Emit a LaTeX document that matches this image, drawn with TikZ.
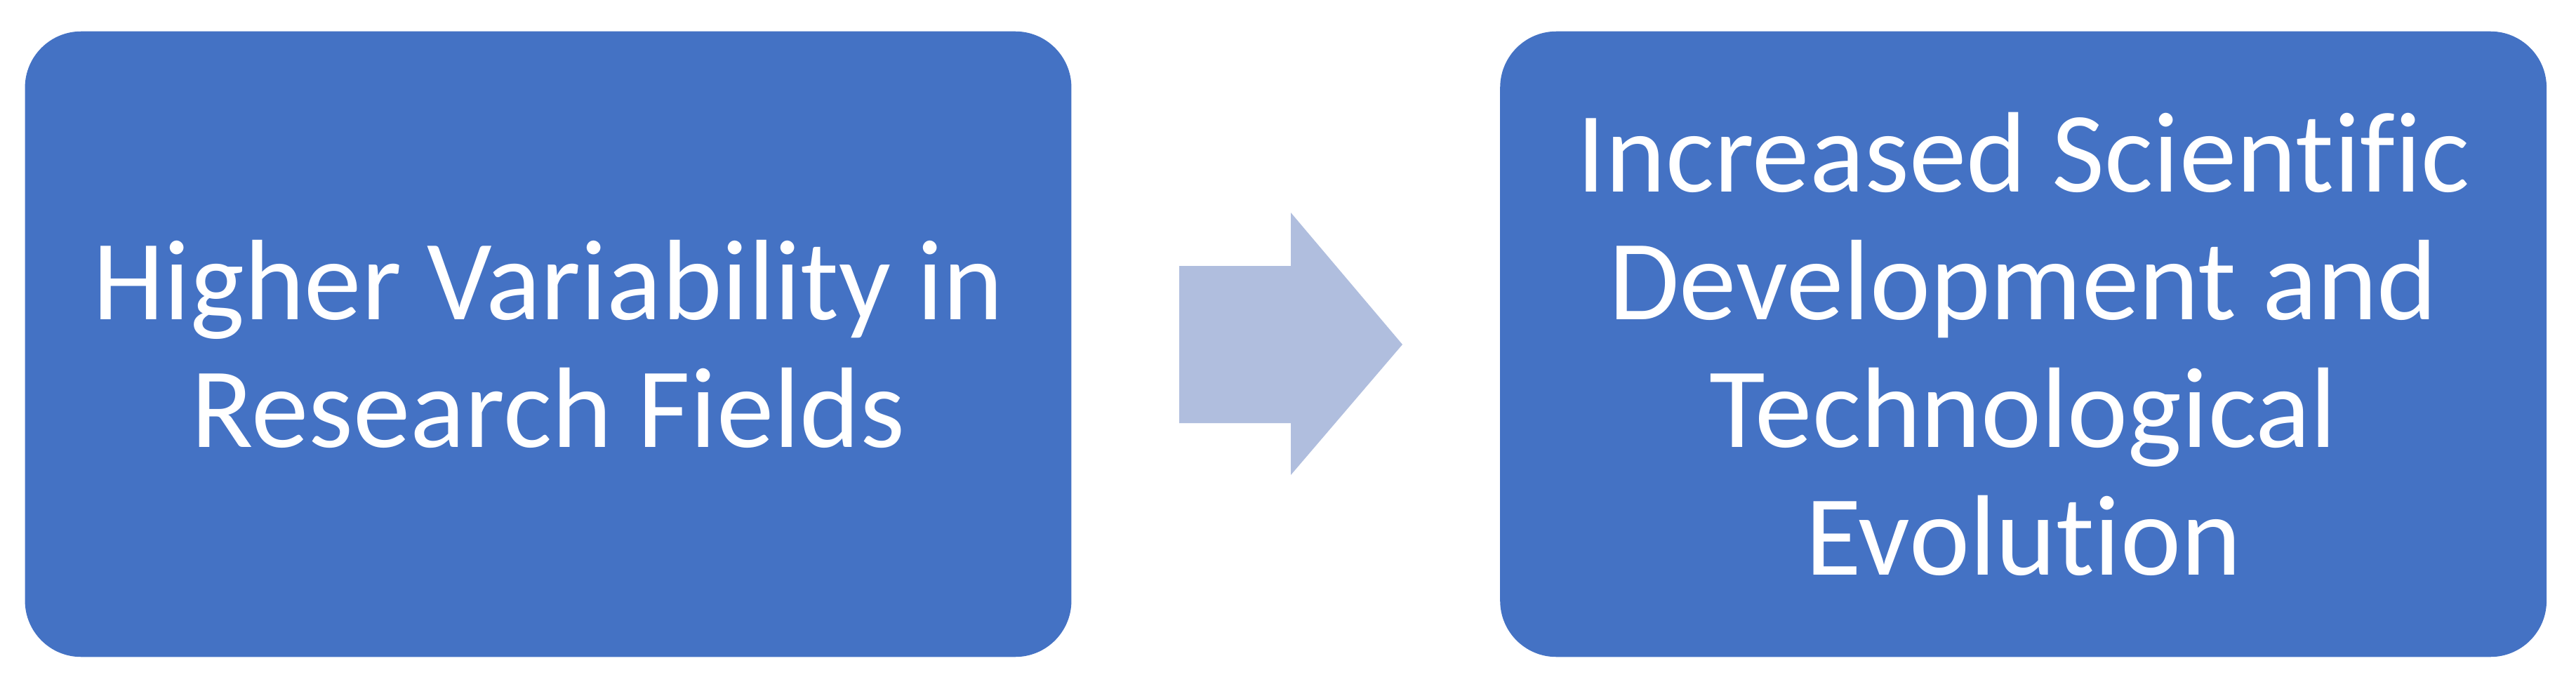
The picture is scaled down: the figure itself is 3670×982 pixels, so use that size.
\documentclass[tikz,border=0pt]{standalone}
\usepackage{fontspec}
\setmainfont{Carlito}[Ligatures={NoCommon,NoContextual}]
\usetikzlibrary{positioning}
\definecolor{boxblue}{RGB}{68,114,196}
\definecolor{arrowblue}{RGB}{176,190,222}

\begin{document}
\begin{tikzpicture}[x=0.01cm, y=-0.01cm,
  stagebox/.style={fill=boxblue, rounded corners=0.8cm, minimum width=14.9cm,
    minimum height=8.91cm, text=white, align=center,
    font=\fontsize{46.4}{51.8}\selectfont}]
  \useasboundingbox (0,0) rectangle (3670,982);
  \node[stagebox] (cause) at (781,490.5) {Higher Variability in\\Research Fields};
  \node[stagebox, right=6.09cm of cause] (effect) {Increased Scientific\\Development and\\Technological\\Evolution};
  % block arrow between the two boxes
  \fill[arrowblue] (1680,379) -- (1839,379) -- (1839,303) -- (1998,491)
    -- (1839,677) -- (1839,603) -- (1680,603) -- cycle;
\end{tikzpicture}
\end{document}
